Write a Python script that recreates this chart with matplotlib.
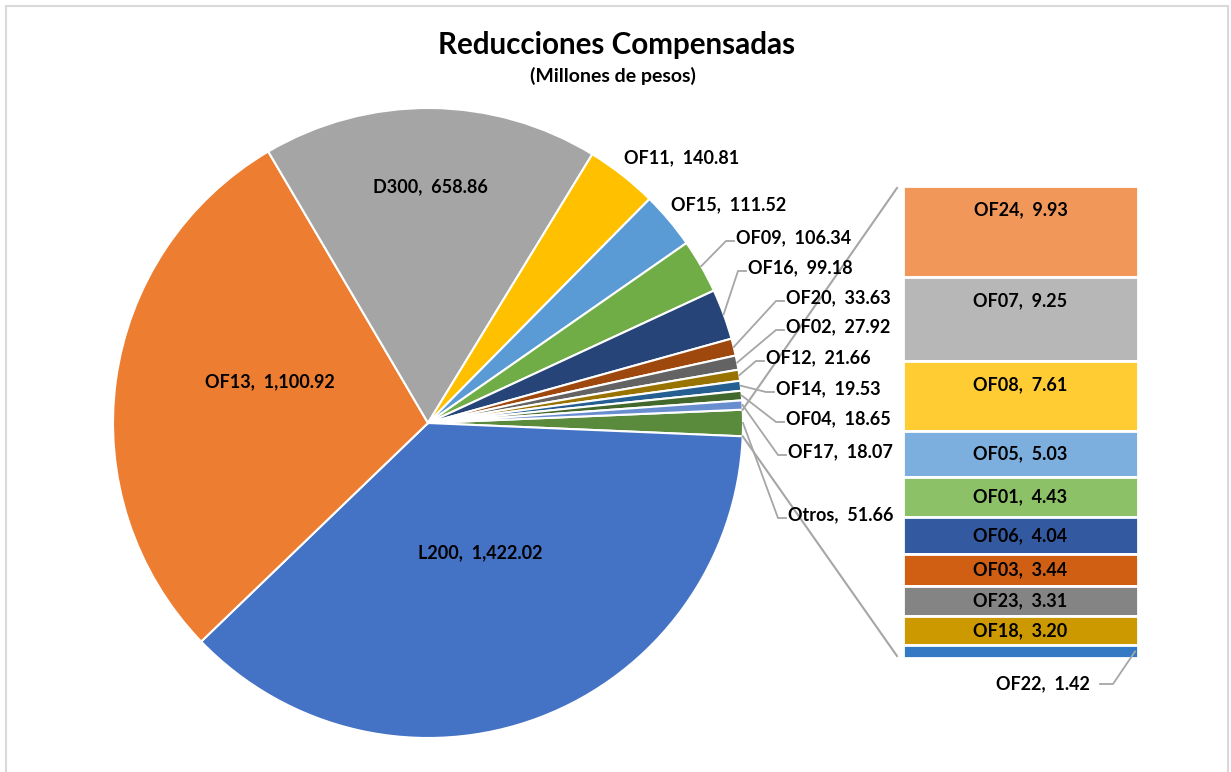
import matplotlib
matplotlib.use("Agg")
import matplotlib.pyplot as plt
import numpy as np
from matplotlib.patches import Rectangle

plt.rcParams['font.family'] = ['Lato', 'DejaVu Sans']

# pie slices, clockwise starting with the "Otros" slice at 3 o'clock
pie_labels = ['Otros', 'L200', 'OF13', 'D300', 'OF11', 'OF15', 'OF09', 'OF16',
              'OF20', 'OF02', 'OF12', 'OF14', 'OF04', 'OF17']
pie_values = [51.66, 1422.02, 1100.92, 658.86, 140.81, 111.52, 106.34, 99.18,
              33.63, 27.92, 21.66, 19.53, 18.65, 18.07]
pie_colors = ['#5A8A3C', '#4472C4', '#ED7D31', '#A5A5A5', '#FFC000', '#5B9BD5',
              '#70AD47', '#264478', '#9E480E', '#636363', '#997300', '#255E91',
              '#43682B', '#698ED0']

# breakdown of "Otros", top to bottom
bar_labels = ['OF24', 'OF07', 'OF08', 'OF05', 'OF01', 'OF06', 'OF03', 'OF23',
              'OF18', 'OF22']
bar_values = [9.93, 9.25, 7.61, 5.03, 4.43, 4.04, 3.44, 3.31, 3.20, 1.42]
bar_colors = ['#F1975A', '#B7B7B7', '#FFCD33', '#7CAFDD', '#8CC168', '#335AA1',
              '#D05F14', '#848484', '#CC9A00', '#3479C3']

W, H = 1231, 772
CX, CY, R = 428, 423, 315  # pie centre / radius in pixels


def px(x, y):
    """pixel position -> data units (pie radius = 1)"""
    return (x - CX) / R, (CY - y) / R


def fmt(name, val):
    return '%s,  %s' % (name, format(val, ',.2f'))


# label anchors in pixels: (x, y, ha, leader)
label_pos = {
    'L200': (480, 553, 'center', False),
    'OF13': (270, 382, 'center', False),
    'D300': (430, 187, 'center', False),
    'OF11': (624, 158, 'left', False),
    'OF15': (671, 205, 'left', False),
    'OF09': (736, 238, 'left', True),
    'OF16': (748, 268, 'left', True),
    'OF20': (786, 298, 'left', True),
    'OF02': (786, 327, 'left', True),
    'OF12': (766, 358, 'left', True),
    'OF14': (776, 389, 'left', True),
    'OF04': (786, 419, 'left', True),
    'OF17': (788, 452, 'left', True),
    'Otros': (788, 515, 'left', True),
}

fig = plt.figure(figsize=(W / 100, H / 100), dpi=100)
ax = fig.add_axes([0, 0, 1, 1])

total = sum(pie_values)
start = 360 * pie_values[0] / total / 2
wedges, _ = ax.pie(pie_values, colors=pie_colors, startangle=start,
                   counterclock=False, radius=1,
                   wedgeprops=dict(edgecolor='white', linewidth=1.5))

lbl_kw = dict(fontsize=13, fontweight='bold', color='black', va='center')
leader_c = '#A6A6A6'
for w, name, val in zip(wedges, pie_labels, pie_values):
    x, y, ha, leader = label_pos[name]
    tx, ty = px(x, y)
    ax.text(tx, ty, fmt(name, val), ha=ha, **lbl_kw)
    if leader:
        mid = np.deg2rad((w.theta1 + w.theta2) / 2)
        sx, sy = np.cos(mid), np.sin(mid)
        ex, ey = px(x - 10, y + 3)
        fx, _ = px(x - 2, y)
        ax.plot([sx, ex, fx], [sy, ey, ey], color=leader_c, lw=1.3,
                solid_joinstyle='miter')

# stacked bar for the "Otros" breakdown
bar_left, bar_top = px(903, 186)
bar_right, bar_bot = px(1138, 658)
scale = (bar_top - bar_bot) / sum(bar_values)
heights = np.array(bar_values) * scale
bottoms = bar_top - np.cumsum(heights)
bw = bar_right - bar_left
ax.bar(bar_left + bw / 2, heights, width=bw, bottom=bottoms, color=bar_colors,
       edgecolor='white', linewidth=2)

off = 24 / R
for name, val, b, h in zip(bar_labels, bar_values, bottoms, heights):
    if name == 'OF22':
        tx, ty = px(1043, 684)
        ax.text(tx, ty, fmt(name, val), ha='center', **lbl_kw)
        p1 = (bar_right - 3 / R, b + h / 2)
        p2 = px(1113, 684)
        p3 = px(1100, 684)
        ax.plot([p1[0], p2[0], p3[0]], [p1[1], p2[1], p3[1]], color=leader_c,
                lw=1.3)
        continue
    ax.text(bar_left + bw / 2, b + h - min(h / 2, off), fmt(name, val),
            ha='center', **lbl_kw)

# connector lines between the "Otros" slice and the bar
a = np.deg2rad(start)
gap = 6 / R
ax.plot([np.cos(a), bar_left - gap], [np.sin(a), bar_top - 2 / R],
        color=leader_c, lw=1.5)
ax.plot([np.cos(a), bar_left - gap], [-np.sin(a), bar_bot + 2 / R],
        color=leader_c, lw=1.5)

ax.set_xlim(-CX / R, (W - CX) / R)
ax.set_ylim(-(H - CY) / R, CY / R)
ax.set_aspect('equal')
ax.axis('off')

fig.text(617 / W, 1 - 45 / H, 'Reducciones Compensadas', ha='center',
         va='center', fontsize=21.3, fontweight='bold')
fig.text(613 / W, 1 - 76 / H, '(Millones de pesos)', ha='center',
         va='center', fontsize=14, fontweight='bold')

fig.patches.append(Rectangle((6 / W, -0.05), 1222 / W, 1.05 - 6 / H,
                             transform=fig.transFigure, fill=False,
                             edgecolor='#D9D9D9', lw=1.5))

fig.savefig('out.png', dpi=100)
